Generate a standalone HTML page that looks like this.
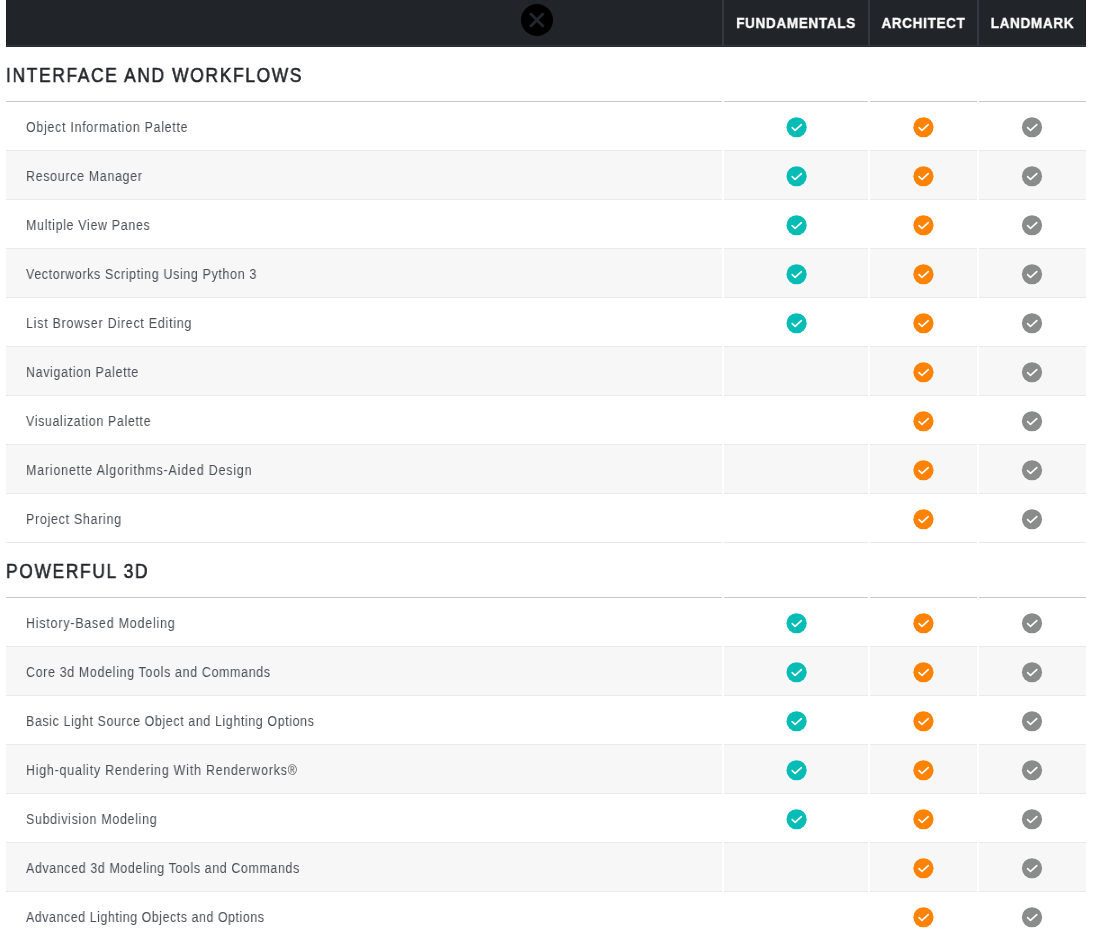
<!DOCTYPE html>
<html><head><meta charset="utf-8"><style>
html,body{margin:0;padding:0;background:#fff;}
body{-webkit-font-smoothing:antialiased;width:1093px;height:940px;overflow:hidden;position:relative;font-family:"Liberation Sans",sans-serif;}
.hd{position:absolute;left:6px;top:0;width:1080px;height:47px;background:#212428;}
.hd .edge{position:absolute;top:0;width:1px;height:47px;background:#1a1d21;}
.hd .bot{position:absolute;left:0;top:45px;width:1080px;height:1px;background:#31363e;}
.hd .bot2{position:absolute;left:0;top:46px;width:1080px;height:1px;background:#262a30;}
.hd .sep{position:absolute;top:0;width:2px;height:45px;background:#343842;}
.hd .ht{will-change:transform;position:absolute;top:0;height:45px;line-height:46px;color:#fff;font-weight:700;font-size:15.5px;letter-spacing:0.8px;transform:scaleX(0.87);-webkit-text-stroke:0.4px #fff;text-align:center;white-space:nowrap;}
.close{position:absolute;left:521px;top:4px;width:32px;height:32px;border-radius:50%;background:#000;}
.st{will-change:transform;position:absolute;left:6px;height:54px;line-height:56px;font-size:20px;color:#23262b;-webkit-text-stroke:0.55px #23262b;letter-spacing:1.9px;transform:scaleX(0.87);transform-origin:0 0;white-space:nowrap;}
.sl{position:absolute;height:1px;background:#c9c9c9;}
.cell{position:absolute;height:48px;border-bottom:1px solid #e9eaec;background:#fff;}
.cell.g{background:#f7f7f7;}
.rt{will-change:transform;position:absolute;left:26px;height:48px;line-height:52px;font-size:13.8px;color:#4a4f55;letter-spacing:0.75px;transform:scaleX(0.9);transform-origin:0 0;white-space:nowrap;}
.ck{position:absolute;}
</style></head><body>
<div class="hd">
<div class="edge" style="left:0"></div><div class="edge" style="left:1079px"></div>
<div class="sep" style="left:716px"></div>
<div class="sep" style="left:862px"></div>
<div class="sep" style="left:971px"></div>
<div class="bot"></div><div class="bot2"></div>
<div class="ht" style="left:718px;width:144px">FUNDAMENTALS</div>
<div class="ht" style="left:864px;width:107px">ARCHITECT</div>
<div class="ht" style="left:973px;width:107px">LANDMARK</div>
</div>
<div class="close"><svg width="32" height="32" viewBox="0 0 32 32" style="position:absolute;left:0;top:0"><path d="M9.2 9.3 L22.6 22.7 M22.6 9.3 L9.2 22.7" stroke="#23262b" stroke-width="2.9" fill="none"/></svg></div>
<div class="st" style="top:47px">INTERFACE AND WORKFLOWS</div><div class="sl" style="left:6px;top:101px;width:716px"></div><div class="sl" style="left:724px;top:101px;width:144px"></div><div class="sl" style="left:870px;top:101px;width:107px"></div><div class="sl" style="left:979px;top:101px;width:107px"></div><div class="cell" style="left:6px;top:102px;width:716px"></div><div class="cell" style="left:724px;top:102px;width:144px"></div><div class="cell" style="left:870px;top:102px;width:107px"></div><div class="cell" style="left:979px;top:102px;width:107px"></div><div class="rt" style="top:102px;letter-spacing:0.799px">Object Information Palette</div><svg class="ck" style="left:784px;top:115px" width="24" height="24" viewBox="0 0 24 24"><circle cx="12.60" cy="12.25" r="10.1" fill="#06bdb5"/><path d="M8.20 12.65 L11.10 15.35 L17.40 9.55" fill="none" stroke="#fff" stroke-width="1.6" stroke-linecap="round" stroke-linejoin="round"/></svg><svg class="ck" style="left:911px;top:115px" width="24" height="24" viewBox="0 0 24 24"><circle cx="12.45" cy="12.25" r="10.1" fill="#ff8300"/><path d="M8.05 12.65 L10.95 15.35 L17.25 9.55" fill="none" stroke="#fff" stroke-width="1.6" stroke-linecap="round" stroke-linejoin="round"/></svg><svg class="ck" style="left:1020px;top:115px" width="24" height="24" viewBox="0 0 24 24"><circle cx="12.00" cy="12.25" r="10.1" fill="#8a8c8b"/><path d="M7.60 12.65 L10.50 15.35 L16.80 9.55" fill="none" stroke="#fff" stroke-width="1.6" stroke-linecap="round" stroke-linejoin="round"/></svg><div class="cell g" style="left:6px;top:151px;width:716px"></div><div class="cell g" style="left:724px;top:151px;width:144px"></div><div class="cell g" style="left:870px;top:151px;width:107px"></div><div class="cell g" style="left:979px;top:151px;width:107px"></div><div class="rt" style="top:151px;letter-spacing:0.765px">Resource Manager</div><svg class="ck" style="left:784px;top:164px" width="24" height="24" viewBox="0 0 24 24"><circle cx="12.60" cy="12.25" r="10.1" fill="#06bdb5"/><path d="M8.20 12.65 L11.10 15.35 L17.40 9.55" fill="none" stroke="#fff" stroke-width="1.6" stroke-linecap="round" stroke-linejoin="round"/></svg><svg class="ck" style="left:911px;top:164px" width="24" height="24" viewBox="0 0 24 24"><circle cx="12.45" cy="12.25" r="10.1" fill="#ff8300"/><path d="M8.05 12.65 L10.95 15.35 L17.25 9.55" fill="none" stroke="#fff" stroke-width="1.6" stroke-linecap="round" stroke-linejoin="round"/></svg><svg class="ck" style="left:1020px;top:164px" width="24" height="24" viewBox="0 0 24 24"><circle cx="12.00" cy="12.25" r="10.1" fill="#8a8c8b"/><path d="M7.60 12.65 L10.50 15.35 L16.80 9.55" fill="none" stroke="#fff" stroke-width="1.6" stroke-linecap="round" stroke-linejoin="round"/></svg><div class="cell" style="left:6px;top:200px;width:716px"></div><div class="cell" style="left:724px;top:200px;width:144px"></div><div class="cell" style="left:870px;top:200px;width:107px"></div><div class="cell" style="left:979px;top:200px;width:107px"></div><div class="rt" style="top:200px;letter-spacing:0.750px">Multiple View Panes</div><svg class="ck" style="left:784px;top:213px" width="24" height="24" viewBox="0 0 24 24"><circle cx="12.60" cy="12.25" r="10.1" fill="#06bdb5"/><path d="M8.20 12.65 L11.10 15.35 L17.40 9.55" fill="none" stroke="#fff" stroke-width="1.6" stroke-linecap="round" stroke-linejoin="round"/></svg><svg class="ck" style="left:911px;top:213px" width="24" height="24" viewBox="0 0 24 24"><circle cx="12.45" cy="12.25" r="10.1" fill="#ff8300"/><path d="M8.05 12.65 L10.95 15.35 L17.25 9.55" fill="none" stroke="#fff" stroke-width="1.6" stroke-linecap="round" stroke-linejoin="round"/></svg><svg class="ck" style="left:1020px;top:213px" width="24" height="24" viewBox="0 0 24 24"><circle cx="12.00" cy="12.25" r="10.1" fill="#8a8c8b"/><path d="M7.60 12.65 L10.50 15.35 L16.80 9.55" fill="none" stroke="#fff" stroke-width="1.6" stroke-linecap="round" stroke-linejoin="round"/></svg><div class="cell g" style="left:6px;top:249px;width:716px"></div><div class="cell g" style="left:724px;top:249px;width:144px"></div><div class="cell g" style="left:870px;top:249px;width:107px"></div><div class="cell g" style="left:979px;top:249px;width:107px"></div><div class="rt" style="top:249px;letter-spacing:0.737px">Vectorworks Scripting Using Python 3</div><svg class="ck" style="left:784px;top:262px" width="24" height="24" viewBox="0 0 24 24"><circle cx="12.60" cy="12.25" r="10.1" fill="#06bdb5"/><path d="M8.20 12.65 L11.10 15.35 L17.40 9.55" fill="none" stroke="#fff" stroke-width="1.6" stroke-linecap="round" stroke-linejoin="round"/></svg><svg class="ck" style="left:911px;top:262px" width="24" height="24" viewBox="0 0 24 24"><circle cx="12.45" cy="12.25" r="10.1" fill="#ff8300"/><path d="M8.05 12.65 L10.95 15.35 L17.25 9.55" fill="none" stroke="#fff" stroke-width="1.6" stroke-linecap="round" stroke-linejoin="round"/></svg><svg class="ck" style="left:1020px;top:262px" width="24" height="24" viewBox="0 0 24 24"><circle cx="12.00" cy="12.25" r="10.1" fill="#8a8c8b"/><path d="M7.60 12.65 L10.50 15.35 L16.80 9.55" fill="none" stroke="#fff" stroke-width="1.6" stroke-linecap="round" stroke-linejoin="round"/></svg><div class="cell" style="left:6px;top:298px;width:716px"></div><div class="cell" style="left:724px;top:298px;width:144px"></div><div class="cell" style="left:870px;top:298px;width:107px"></div><div class="cell" style="left:979px;top:298px;width:107px"></div><div class="rt" style="top:298px;letter-spacing:0.844px">List Browser Direct Editing</div><svg class="ck" style="left:784px;top:311px" width="24" height="24" viewBox="0 0 24 24"><circle cx="12.60" cy="12.25" r="10.1" fill="#06bdb5"/><path d="M8.20 12.65 L11.10 15.35 L17.40 9.55" fill="none" stroke="#fff" stroke-width="1.6" stroke-linecap="round" stroke-linejoin="round"/></svg><svg class="ck" style="left:911px;top:311px" width="24" height="24" viewBox="0 0 24 24"><circle cx="12.45" cy="12.25" r="10.1" fill="#ff8300"/><path d="M8.05 12.65 L10.95 15.35 L17.25 9.55" fill="none" stroke="#fff" stroke-width="1.6" stroke-linecap="round" stroke-linejoin="round"/></svg><svg class="ck" style="left:1020px;top:311px" width="24" height="24" viewBox="0 0 24 24"><circle cx="12.00" cy="12.25" r="10.1" fill="#8a8c8b"/><path d="M7.60 12.65 L10.50 15.35 L16.80 9.55" fill="none" stroke="#fff" stroke-width="1.6" stroke-linecap="round" stroke-linejoin="round"/></svg><div class="cell g" style="left:6px;top:347px;width:716px"></div><div class="cell g" style="left:724px;top:347px;width:144px"></div><div class="cell g" style="left:870px;top:347px;width:107px"></div><div class="cell g" style="left:979px;top:347px;width:107px"></div><div class="rt" style="top:347px;letter-spacing:0.750px">Navigation Palette</div><svg class="ck" style="left:911px;top:360px" width="24" height="24" viewBox="0 0 24 24"><circle cx="12.45" cy="12.25" r="10.1" fill="#ff8300"/><path d="M8.05 12.65 L10.95 15.35 L17.25 9.55" fill="none" stroke="#fff" stroke-width="1.6" stroke-linecap="round" stroke-linejoin="round"/></svg><svg class="ck" style="left:1020px;top:360px" width="24" height="24" viewBox="0 0 24 24"><circle cx="12.00" cy="12.25" r="10.1" fill="#8a8c8b"/><path d="M7.60 12.65 L10.50 15.35 L16.80 9.55" fill="none" stroke="#fff" stroke-width="1.6" stroke-linecap="round" stroke-linejoin="round"/></svg><div class="cell" style="left:6px;top:396px;width:716px"></div><div class="cell" style="left:724px;top:396px;width:144px"></div><div class="cell" style="left:870px;top:396px;width:107px"></div><div class="cell" style="left:979px;top:396px;width:107px"></div><div class="rt" style="top:396px;letter-spacing:0.717px">Visualization Palette</div><svg class="ck" style="left:911px;top:409px" width="24" height="24" viewBox="0 0 24 24"><circle cx="12.45" cy="12.25" r="10.1" fill="#ff8300"/><path d="M8.05 12.65 L10.95 15.35 L17.25 9.55" fill="none" stroke="#fff" stroke-width="1.6" stroke-linecap="round" stroke-linejoin="round"/></svg><svg class="ck" style="left:1020px;top:409px" width="24" height="24" viewBox="0 0 24 24"><circle cx="12.00" cy="12.25" r="10.1" fill="#8a8c8b"/><path d="M7.60 12.65 L10.50 15.35 L16.80 9.55" fill="none" stroke="#fff" stroke-width="1.6" stroke-linecap="round" stroke-linejoin="round"/></svg><div class="cell g" style="left:6px;top:445px;width:716px"></div><div class="cell g" style="left:724px;top:445px;width:144px"></div><div class="cell g" style="left:870px;top:445px;width:107px"></div><div class="cell g" style="left:979px;top:445px;width:107px"></div><div class="rt" style="top:445px;letter-spacing:0.925px">Marionette Algorithms-Aided Design</div><svg class="ck" style="left:911px;top:458px" width="24" height="24" viewBox="0 0 24 24"><circle cx="12.45" cy="12.25" r="10.1" fill="#ff8300"/><path d="M8.05 12.65 L10.95 15.35 L17.25 9.55" fill="none" stroke="#fff" stroke-width="1.6" stroke-linecap="round" stroke-linejoin="round"/></svg><svg class="ck" style="left:1020px;top:458px" width="24" height="24" viewBox="0 0 24 24"><circle cx="12.00" cy="12.25" r="10.1" fill="#8a8c8b"/><path d="M7.60 12.65 L10.50 15.35 L16.80 9.55" fill="none" stroke="#fff" stroke-width="1.6" stroke-linecap="round" stroke-linejoin="round"/></svg><div class="cell" style="left:6px;top:494px;width:716px"></div><div class="cell" style="left:724px;top:494px;width:144px"></div><div class="cell" style="left:870px;top:494px;width:107px"></div><div class="cell" style="left:979px;top:494px;width:107px"></div><div class="rt" style="top:494px;letter-spacing:0.806px">Project Sharing</div><svg class="ck" style="left:911px;top:507px" width="24" height="24" viewBox="0 0 24 24"><circle cx="12.45" cy="12.25" r="10.1" fill="#ff8300"/><path d="M8.05 12.65 L10.95 15.35 L17.25 9.55" fill="none" stroke="#fff" stroke-width="1.6" stroke-linecap="round" stroke-linejoin="round"/></svg><svg class="ck" style="left:1020px;top:507px" width="24" height="24" viewBox="0 0 24 24"><circle cx="12.00" cy="12.25" r="10.1" fill="#8a8c8b"/><path d="M7.60 12.65 L10.50 15.35 L16.80 9.55" fill="none" stroke="#fff" stroke-width="1.6" stroke-linecap="round" stroke-linejoin="round"/></svg><div class="st" style="top:543px">POWERFUL 3D</div><div class="sl" style="left:6px;top:597px;width:716px"></div><div class="sl" style="left:724px;top:597px;width:144px"></div><div class="sl" style="left:870px;top:597px;width:107px"></div><div class="sl" style="left:979px;top:597px;width:107px"></div><div class="cell" style="left:6px;top:598px;width:716px"></div><div class="cell" style="left:724px;top:598px;width:144px"></div><div class="cell" style="left:870px;top:598px;width:107px"></div><div class="cell" style="left:979px;top:598px;width:107px"></div><div class="rt" style="top:598px;letter-spacing:0.893px">History-Based Modeling</div><svg class="ck" style="left:784px;top:611px" width="24" height="24" viewBox="0 0 24 24"><circle cx="12.60" cy="12.25" r="10.1" fill="#06bdb5"/><path d="M8.20 12.65 L11.10 15.35 L17.40 9.55" fill="none" stroke="#fff" stroke-width="1.6" stroke-linecap="round" stroke-linejoin="round"/></svg><svg class="ck" style="left:911px;top:611px" width="24" height="24" viewBox="0 0 24 24"><circle cx="12.45" cy="12.25" r="10.1" fill="#ff8300"/><path d="M8.05 12.65 L10.95 15.35 L17.25 9.55" fill="none" stroke="#fff" stroke-width="1.6" stroke-linecap="round" stroke-linejoin="round"/></svg><svg class="ck" style="left:1020px;top:611px" width="24" height="24" viewBox="0 0 24 24"><circle cx="12.00" cy="12.25" r="10.1" fill="#8a8c8b"/><path d="M7.60 12.65 L10.50 15.35 L16.80 9.55" fill="none" stroke="#fff" stroke-width="1.6" stroke-linecap="round" stroke-linejoin="round"/></svg><div class="cell g" style="left:6px;top:647px;width:716px"></div><div class="cell g" style="left:724px;top:647px;width:144px"></div><div class="cell g" style="left:870px;top:647px;width:107px"></div><div class="cell g" style="left:979px;top:647px;width:107px"></div><div class="rt" style="top:647px;letter-spacing:0.743px">Core 3d Modeling Tools and Commands</div><svg class="ck" style="left:784px;top:660px" width="24" height="24" viewBox="0 0 24 24"><circle cx="12.60" cy="12.25" r="10.1" fill="#06bdb5"/><path d="M8.20 12.65 L11.10 15.35 L17.40 9.55" fill="none" stroke="#fff" stroke-width="1.6" stroke-linecap="round" stroke-linejoin="round"/></svg><svg class="ck" style="left:911px;top:660px" width="24" height="24" viewBox="0 0 24 24"><circle cx="12.45" cy="12.25" r="10.1" fill="#ff8300"/><path d="M8.05 12.65 L10.95 15.35 L17.25 9.55" fill="none" stroke="#fff" stroke-width="1.6" stroke-linecap="round" stroke-linejoin="round"/></svg><svg class="ck" style="left:1020px;top:660px" width="24" height="24" viewBox="0 0 24 24"><circle cx="12.00" cy="12.25" r="10.1" fill="#8a8c8b"/><path d="M7.60 12.65 L10.50 15.35 L16.80 9.55" fill="none" stroke="#fff" stroke-width="1.6" stroke-linecap="round" stroke-linejoin="round"/></svg><div class="cell" style="left:6px;top:696px;width:716px"></div><div class="cell" style="left:724px;top:696px;width:144px"></div><div class="cell" style="left:870px;top:696px;width:107px"></div><div class="cell" style="left:979px;top:696px;width:107px"></div><div class="rt" style="top:696px;letter-spacing:0.683px">Basic Light Source Object and Lighting Options</div><svg class="ck" style="left:784px;top:709px" width="24" height="24" viewBox="0 0 24 24"><circle cx="12.60" cy="12.25" r="10.1" fill="#06bdb5"/><path d="M8.20 12.65 L11.10 15.35 L17.40 9.55" fill="none" stroke="#fff" stroke-width="1.6" stroke-linecap="round" stroke-linejoin="round"/></svg><svg class="ck" style="left:911px;top:709px" width="24" height="24" viewBox="0 0 24 24"><circle cx="12.45" cy="12.25" r="10.1" fill="#ff8300"/><path d="M8.05 12.65 L10.95 15.35 L17.25 9.55" fill="none" stroke="#fff" stroke-width="1.6" stroke-linecap="round" stroke-linejoin="round"/></svg><svg class="ck" style="left:1020px;top:709px" width="24" height="24" viewBox="0 0 24 24"><circle cx="12.00" cy="12.25" r="10.1" fill="#8a8c8b"/><path d="M7.60 12.65 L10.50 15.35 L16.80 9.55" fill="none" stroke="#fff" stroke-width="1.6" stroke-linecap="round" stroke-linejoin="round"/></svg><div class="cell g" style="left:6px;top:745px;width:716px"></div><div class="cell g" style="left:724px;top:745px;width:144px"></div><div class="cell g" style="left:870px;top:745px;width:107px"></div><div class="cell g" style="left:979px;top:745px;width:107px"></div><div class="rt" style="top:745px;letter-spacing:0.867px">High-quality Rendering With Renderworks®</div><svg class="ck" style="left:784px;top:758px" width="24" height="24" viewBox="0 0 24 24"><circle cx="12.60" cy="12.25" r="10.1" fill="#06bdb5"/><path d="M8.20 12.65 L11.10 15.35 L17.40 9.55" fill="none" stroke="#fff" stroke-width="1.6" stroke-linecap="round" stroke-linejoin="round"/></svg><svg class="ck" style="left:911px;top:758px" width="24" height="24" viewBox="0 0 24 24"><circle cx="12.45" cy="12.25" r="10.1" fill="#ff8300"/><path d="M8.05 12.65 L10.95 15.35 L17.25 9.55" fill="none" stroke="#fff" stroke-width="1.6" stroke-linecap="round" stroke-linejoin="round"/></svg><svg class="ck" style="left:1020px;top:758px" width="24" height="24" viewBox="0 0 24 24"><circle cx="12.00" cy="12.25" r="10.1" fill="#8a8c8b"/><path d="M7.60 12.65 L10.50 15.35 L16.80 9.55" fill="none" stroke="#fff" stroke-width="1.6" stroke-linecap="round" stroke-linejoin="round"/></svg><div class="cell" style="left:6px;top:794px;width:716px"></div><div class="cell" style="left:724px;top:794px;width:144px"></div><div class="cell" style="left:870px;top:794px;width:107px"></div><div class="cell" style="left:979px;top:794px;width:107px"></div><div class="rt" style="top:794px;letter-spacing:0.773px">Subdivision Modeling</div><svg class="ck" style="left:784px;top:807px" width="24" height="24" viewBox="0 0 24 24"><circle cx="12.60" cy="12.25" r="10.1" fill="#06bdb5"/><path d="M8.20 12.65 L11.10 15.35 L17.40 9.55" fill="none" stroke="#fff" stroke-width="1.6" stroke-linecap="round" stroke-linejoin="round"/></svg><svg class="ck" style="left:911px;top:807px" width="24" height="24" viewBox="0 0 24 24"><circle cx="12.45" cy="12.25" r="10.1" fill="#ff8300"/><path d="M8.05 12.65 L10.95 15.35 L17.25 9.55" fill="none" stroke="#fff" stroke-width="1.6" stroke-linecap="round" stroke-linejoin="round"/></svg><svg class="ck" style="left:1020px;top:807px" width="24" height="24" viewBox="0 0 24 24"><circle cx="12.00" cy="12.25" r="10.1" fill="#8a8c8b"/><path d="M7.60 12.65 L10.50 15.35 L16.80 9.55" fill="none" stroke="#fff" stroke-width="1.6" stroke-linecap="round" stroke-linejoin="round"/></svg><div class="cell g" style="left:6px;top:843px;width:716px"></div><div class="cell g" style="left:724px;top:843px;width:144px"></div><div class="cell g" style="left:870px;top:843px;width:107px"></div><div class="cell g" style="left:979px;top:843px;width:107px"></div><div class="rt" style="top:843px;letter-spacing:0.689px">Advanced 3d Modeling Tools and Commands</div><svg class="ck" style="left:911px;top:856px" width="24" height="24" viewBox="0 0 24 24"><circle cx="12.45" cy="12.25" r="10.1" fill="#ff8300"/><path d="M8.05 12.65 L10.95 15.35 L17.25 9.55" fill="none" stroke="#fff" stroke-width="1.6" stroke-linecap="round" stroke-linejoin="round"/></svg><svg class="ck" style="left:1020px;top:856px" width="24" height="24" viewBox="0 0 24 24"><circle cx="12.00" cy="12.25" r="10.1" fill="#8a8c8b"/><path d="M7.60 12.65 L10.50 15.35 L16.80 9.55" fill="none" stroke="#fff" stroke-width="1.6" stroke-linecap="round" stroke-linejoin="round"/></svg><div class="cell" style="left:6px;top:892px;width:716px"></div><div class="cell" style="left:724px;top:892px;width:144px"></div><div class="cell" style="left:870px;top:892px;width:107px"></div><div class="cell" style="left:979px;top:892px;width:107px"></div><div class="rt" style="top:892px;letter-spacing:0.614px">Advanced Lighting Objects and Options</div><svg class="ck" style="left:911px;top:905px" width="24" height="24" viewBox="0 0 24 24"><circle cx="12.45" cy="12.25" r="10.1" fill="#ff8300"/><path d="M8.05 12.65 L10.95 15.35 L17.25 9.55" fill="none" stroke="#fff" stroke-width="1.6" stroke-linecap="round" stroke-linejoin="round"/></svg><svg class="ck" style="left:1020px;top:905px" width="24" height="24" viewBox="0 0 24 24"><circle cx="12.00" cy="12.25" r="10.1" fill="#8a8c8b"/><path d="M7.60 12.65 L10.50 15.35 L16.80 9.55" fill="none" stroke="#fff" stroke-width="1.6" stroke-linecap="round" stroke-linejoin="round"/></svg>
</body></html>
